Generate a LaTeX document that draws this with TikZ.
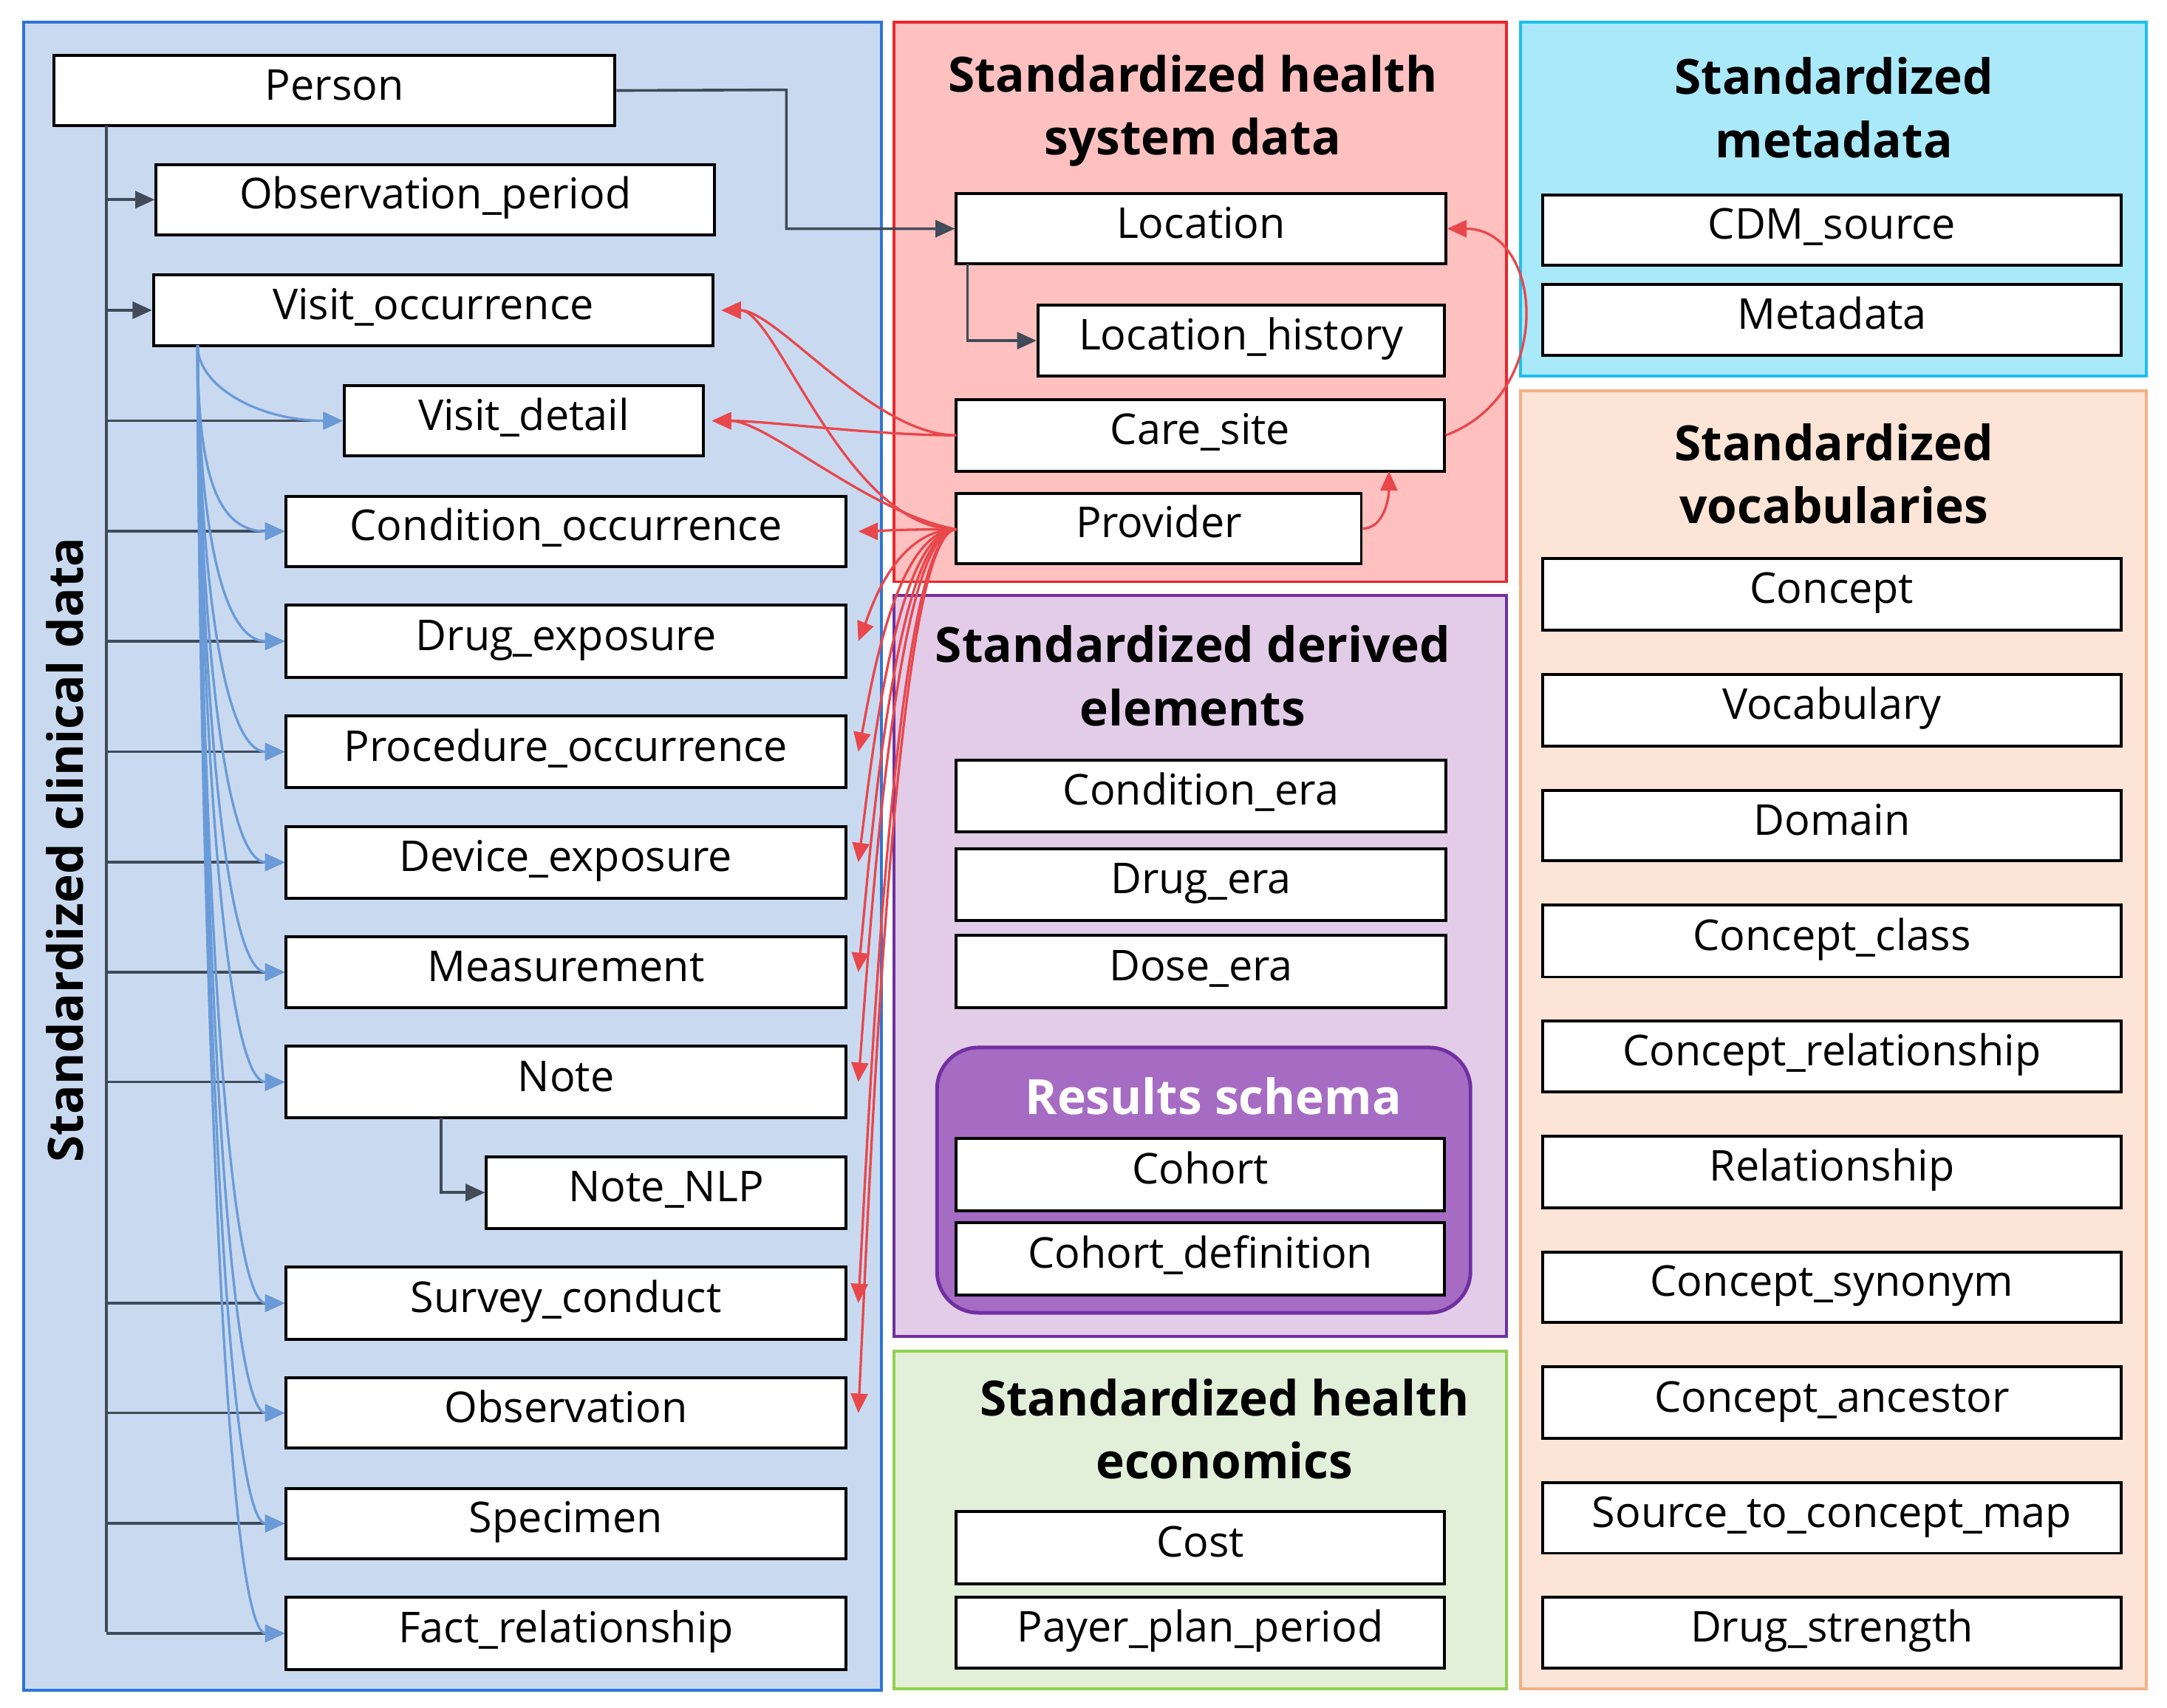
\documentclass[tikz,border=0pt]{standalone}
\usepackage{fontspec}
\setmainfont{Open Sans}
\usetikzlibrary{arrows.meta}
\definecolor{bluef}{HTML}{C9DAF0}\definecolor{blued}{HTML}{2E75D6}
\definecolor{redf}{HTML}{FFC0C0}\definecolor{redd}{HTML}{E8262B}
\definecolor{cyanf}{HTML}{A9E9FA}\definecolor{cyand}{HTML}{1EBFF0}
\definecolor{oranf}{HTML}{FCE4D6}\definecolor{orand}{HTML}{F4B183}
\definecolor{purf}{HTML}{E2CCE8}\definecolor{purd}{HTML}{7030A0}
\definecolor{resf}{HTML}{A66CC4}
\definecolor{grnf}{HTML}{E2F0D9}\definecolor{grnd}{HTML}{92D050}
\definecolor{trk}{HTML}{404A58}\definecolor{blc}{HTML}{6A9BD8}\definecolor{rdc}{HTML}{E8474C}
\newcommand\mybx[6]{\node[box,minimum width={(#4-#2)*0.02cm},minimum height={(#5-#3)*0.02cm}] (#1) at ({(#2+#4)/2},{(#3+#5)/2}) {#6};}
\tikzset{
 box/.style={draw=black,fill=white,line width=1.2pt,inner sep=0pt,text height=0.8em,text depth=0.04em,font=\fontsize{17.5}{20}\selectfont},
 panel/.style={line width=1.2pt},
 ttl/.style={font=\fontsize{20}{26}\selectfont\bfseries,align=center},
 trunk/.style={draw=trk,line width=1.1pt,-{Triangle[length=8pt,width=7pt]}},
 bl/.style={draw=blc,line width=1pt,-{Triangle[length=8pt,width=7pt]}},
 rd/.style={draw=rdc,line width=1pt,-{Triangle[length=8pt,width=7pt]}},
}
\begin{document}
\begin{tikzpicture}[x=0.02cm,y=-0.02cm]
\useasboundingbox (0,0) rectangle (1568,1235.6);
\draw[panel,fill=bluef,draw=blued] (17,16) rectangle (638,1223);
\draw[panel,fill=redf,draw=redd] (647,16) rectangle (1090,421);
\draw[panel,fill=cyanf,draw=cyand] (1100,16) rectangle (1553,272);
\draw[panel,fill=oranf,draw=orand] (1100,283) rectangle (1553,1222);
\draw[panel,fill=purf,draw=purd] (647,431) rectangle (1090,967);
\draw[panel,fill=grnf,draw=grnd] (647,978) rectangle (1090,1222);
\draw[line width=1.5pt,fill=resf,draw=purd,rounded corners=0.6cm] (678,758) rectangle (1064,950);
\node[ttl] (t1) at (863,80) {Standardized health\\system data};
\node[ttl] (t2) at (1327,78) {Standardized\\metadata};
\node[ttl] (t3) at (1327,343) {Standardized\\vocabularies};
\node[ttl] (t4) at (863,489) {Standardized derived\\elements};
\node[ttl] (t5) at (886,1034) {Standardized health\\economics};
\node[ttl,text=white] (t6) at (878,793) {Results schema};
\node[ttl,rotate=90] (t7) at (47,615) {Standardized clinical data};
% clinical boxes
\mybx{per}{39}{40}{445}{91}{Person}
\mybx{op}{113}{119}{517}{170}{Observation\_period}
\mybx{vo}{111}{199}{516}{250}{Visit\_occurrence}
\mybx{vd}{249}{279}{509}{330}{Visit\_detail}
\mybx{co}{207}{359}{612}{410}{Condition\_occurrence}
\mybx{de}{207}{438}{612}{490}{Drug\_exposure}
\mybx{po}{207}{518}{612}{570}{Procedure\_occurrence}
\mybx{dv}{207}{598}{612}{650}{Device\_exposure}
\mybx{me}{207}{678}{612}{729}{Measurement}
\mybx{no}{207}{757}{612}{809}{Note}
\mybx{nl}{352}{837}{612}{889}{Note\_NLP}
\mybx{sc}{207}{917}{612}{969}{Survey\_conduct}
\mybx{ob}{207}{997}{612}{1048}{Observation}
\mybx{sp}{207}{1077}{612}{1128}{Specimen}
\mybx{fr}{207}{1156}{612}{1208}{Fact\_relationship}
% health system
\mybx{loc}{692}{140}{1046}{191}{Location}
\mybx{lh}{751}{221}{1045}{272}{Location\_history}
\mybx{cs}{692}{289}{1045}{341}{Care\_site}
\mybx{pr}{692}{357}{985}{408}{Provider}
% metadata
\mybx{cdm}{1116}{141}{1535}{192}{CDM\_source}
\mybx{md}{1116}{206}{1535}{257}{Metadata}
% vocab
\mybx{c1}{1116}{404}{1535}{456}{Concept}
\mybx{c2}{1116}{488}{1535}{540}{Vocabulary}
\mybx{c3}{1116}{572}{1535}{623}{Domain}
\mybx{c4}{1116}{655}{1535}{707}{Concept\_class}
\mybx{c5}{1116}{739}{1535}{790}{Concept\_relationship}
\mybx{c6}{1116}{822}{1535}{874}{Relationship}
\mybx{c7}{1116}{906}{1535}{957}{Concept\_synonym}
\mybx{c8}{1116}{989}{1535}{1041}{Concept\_ancestor}
\mybx{c9}{1116}{1073}{1535}{1124}{Source\_to\_concept\_map}
\mybx{c10}{1116}{1156}{1535}{1207}{Drug\_strength}
% derived
\mybx{ce}{692}{550}{1046}{602}{Condition\_era}
\mybx{dre}{692}{614}{1046}{666}{Drug\_era}
\mybx{dse}{692}{677}{1046}{729}{Dose\_era}
\mybx{coh}{692}{824}{1045}{876}{Cohort}
\mybx{cd}{692}{885}{1045}{937}{Cohort\_definition}
% economics
\mybx{cost}{692}{1094}{1045}{1146}{Cost}
\mybx{ppp}{692}{1156}{1045}{1207}{Payer\_plan\_period}
% trunk
\coordinate (tt) at (77,91);
\coordinate (tb) at (77,1181);
\draw[draw=trk,line width=1.1pt] (tt) -- (tb);
\foreach \n in {op,vo,co,de,po,dv,me,no,sc,ob,sp,fr} \draw[trunk] (tt |- \n.west) -- (\n.west);
\draw[trunk] (tt |- vd.west) -- (vd.west);
\coordinate (nlk) at (319,809);
\draw[trunk] (nlk) |- (nl.west);
% blue curves
\coordinate (vs) at (143,250);
\draw[bl] (vs) .. controls +(0,30) and +(-60,0) .. (vd.west);
\foreach \n/\k in {co/60,de/70,po/80,dv/90,me/100,no/110,sc/120,ob/130,sp/140,fr/150}
  \draw[bl] (vs) .. controls +(0,{\k*1.5}) and +(-50,0) .. (\n.west);
% health system connectors
\coordinate (pk) at (569,65);
\draw[trunk] (per.east) -- (pk) |- (loc.west);
\coordinate (lk) at (700,191);
\draw[trunk] (lk) |- (lh.west);
\draw[rd] (cs.east) .. controls +(80,-30) and +(70,0) .. (loc.east);
\coordinate (cst) at (1005,341);
\draw[rd] (pr.east) .. controls +(15,0) and +(0,20) .. (cst);
\coordinate (csl) at (692,315);
\coordinate (prl) at (692,383);
\draw[rd] (csl) .. controls +(-60,0) and +(40,0) .. ([xshift=0.1cm]vo.east);
\draw[rd] (csl) .. controls +(-60,0) and +(40,0) .. ([xshift=0.1cm]vd.east);
\draw[rd] (prl) .. controls +(-80,0) and +(40,0) .. ([xshift=0.1cm]vo.east);
\draw[rd] (prl) .. controls +(-60,-10) and +(40,0) .. ([xshift=0.1cm]vd.east);
\foreach \n/\k in {co/0,de/20,po/40,dv/60,me/80,no/100,sc/140,ob/160}
  \draw[rd] (prl) .. controls +(-45,0) and +(8,{-\k}) .. ([xshift=0.16cm]\n.east);
\end{tikzpicture}
\end{document}
